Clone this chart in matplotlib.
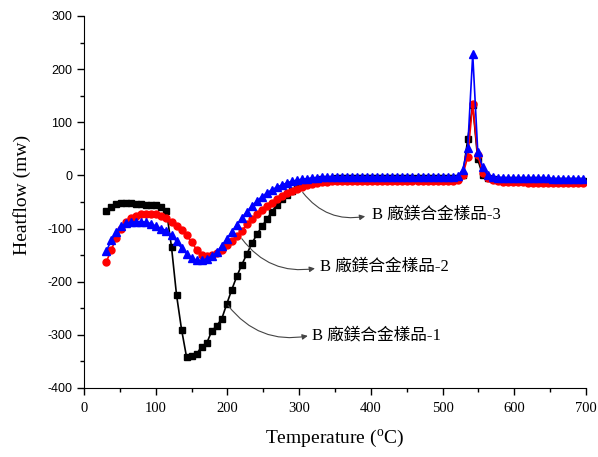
import numpy as np
import matplotlib
matplotlib.use("Agg")
import matplotlib.pyplot as plt
from matplotlib.ticker import MultipleLocator

plt.rcParams['mathtext.fontset'] = 'custom'
plt.rcParams['mathtext.rm'] = 'Liberation Serif'
plt.rcParams['axes.unicode_minus'] = False

# DSC scans, sampled every 7 degC from 31 to 696
temp = np.arange(31, 697, 7)

heat_1 = [-67, -60, -54, -51, -51, -52, -53, -54, -55, -55,
          -56, -59, -67, -135, -225, -290, -342, -340, -336, -322,
          -316, -293, -283, -270, -242, -215, -190, -168, -148, -128,
          -111, -96, -82, -68, -55, -45, -36, -29, -23, -18,
          -14, -11, -9, -7, -6, -6, -5, -5, -5, -5,
          -5, -5, -5, -5, -5, -5, -5, -5, -5, -5,
          -5, -5, -5, -5, -5, -5, -5, -5, -5, -5,
          -4, 0, 68, 132, 30, 0, -5, -7, -8, -8,
          -8, -8, -9, -9, -9, -9, -9, -9, -10, -10,
          -10, -10, -10, -10, -10, -10]

heat_2 = [-163, -140, -118, -101, -87, -80, -76, -73, -72, -72,
          -73, -76, -80, -87, -95, -103, -113, -125, -140, -150,
          -152, -150, -146, -140, -131, -123, -114, -104, -92, -82,
          -73, -65, -58, -51, -45, -39, -34, -29, -25, -21,
          -18, -16, -14, -13, -12, -11, -10, -10, -10, -10,
          -10, -10, -10, -10, -10, -10, -10, -10, -10, -10,
          -10, -10, -10, -10, -10, -10, -10, -10, -10, -10,
          -8, 0, 35, 135, 38, 5, -5, -9, -11, -12,
          -12, -13, -13, -13, -14, -14, -14, -14, -14, -15,
          -15, -15, -15, -15, -15, -15]

heat_3 = [-143, -122, -106, -95, -90, -88, -87, -87, -88, -91,
          -96, -100, -104, -113, -124, -137, -147, -155, -160, -160,
          -157, -152, -145, -132, -120, -106, -93, -80, -68, -58,
          -48, -40, -33, -27, -22, -18, -14, -11, -9, -7,
          -6, -5, -4, -3, -3, -3, -3, -3, -3, -3,
          -3, -3, -3, -3, -3, -3, -3, -3, -3, -3,
          -3, -3, -3, -3, -3, -3, -3, -3, -3, -3,
          -2, 10, 52, 228, 45, 15, 0, -3, -4, -4,
          -5, -5, -5, -5, -5, -5, -5, -5, -5, -6,
          -6, -6, -6, -6, -6, -6]

labels = ['B 廠鎂合金樣品-1', 'B 廠鎂合金樣品-2', 'B 廠鎂合金樣品-3']
# (curve point, arrow head, text position) in data units
callouts = [((201, -245), (312, -302), (318, -302)),
            ((220, -119), (322, -175), (329, -172)),
            ((305, -32), (392, -77), (401, -74))]

serif = ['Liberation Serif', 'Noto Sans CJK TC']

fig = plt.figure(figsize=(5.98, 4.57), dpi=100)
ax = fig.add_axes([0.1405, 0.151, 0.8395, 0.814])

ax.plot(temp, heat_1, color='black', marker='s', ms=4.5, lw=1.2)
ax.plot(temp, heat_2, color='red', marker='o', ms=5, lw=1.2)
ax.plot(temp, heat_3, color='blue', marker='^', ms=5.5, lw=1.2)

for lab, (pt, head, txt) in zip(labels, callouts):
    ax.annotate('', xy=head, xytext=pt,
                arrowprops=dict(arrowstyle='-|>', color='#444444', lw=0.8,
                                mutation_scale=8,
                                connectionstyle='arc3,rad=0.3',
                                shrinkA=0, shrinkB=0))
    ax.text(txt[0], txt[1], lab, family=serif, fontsize=12,
            va='center', ha='left')

ax.set_xlim(0, 700)
ax.set_ylim(-400, 300)
ax.xaxis.set_major_locator(MultipleLocator(100))
ax.xaxis.set_minor_locator(MultipleLocator(50))
ax.yaxis.set_major_locator(MultipleLocator(100))
ax.yaxis.set_minor_locator(MultipleLocator(50))
ax.tick_params(which='both', direction='out', width=1)
ax.tick_params(which='major', length=5)
ax.tick_params(which='minor', length=3)
ax.tick_params(axis='x', pad=5)
ax.spines['top'].set_visible(False)
ax.spines['right'].set_visible(False)

for t in ax.get_xticklabels():
    t.set_family('Liberation Serif')
    t.set_fontsize(10.5)
for t in ax.get_yticklabels():
    t.set_family('Liberation Sans')
    t.set_fontsize(9)

ax.set_xlabel(r'Temperature ($^{\mathrm{o}}$C)', family='Liberation Serif',
              fontsize=14)
ax.set_ylabel('Heatflow (mw)', family='Liberation Serif', fontsize=14)
ax.xaxis.set_label_coords(0.5, -0.105)
ax.yaxis.set_label_coords(-0.105, 0.52)

fig.savefig('out.png', dpi=100)
